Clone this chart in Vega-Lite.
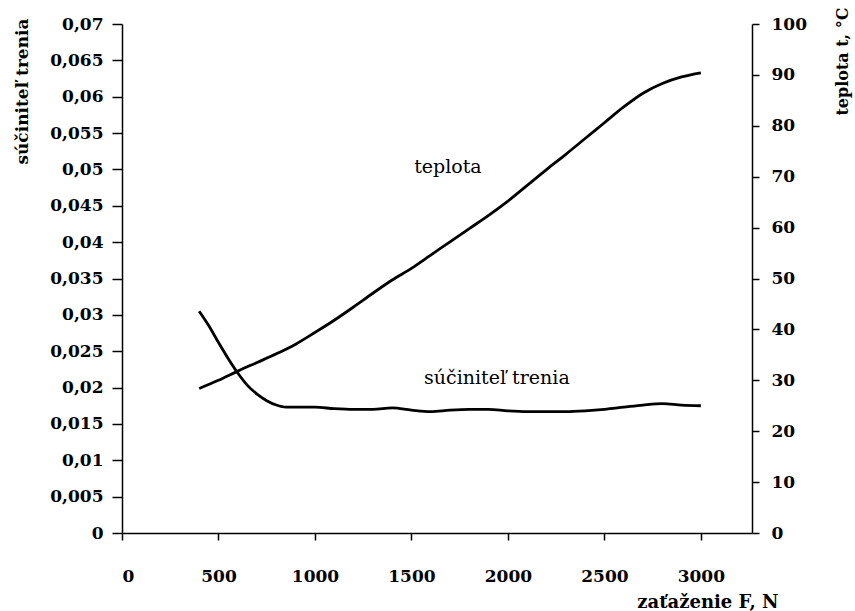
{
  "$schema": "https://vega.github.io/schema/vega-lite/v6.json",
  "width": 630,
  "height": 509,
  "autosize": "none",
  "padding": {"left": 122, "top": 24, "right": 103, "bottom": 78},
  "background": "white",
  "config": {
    "view": {"stroke": null},
    "font": "DejaVu Serif",
    "axis": {
      "grid": false,
      "domainColor": "black",
      "domainWidth": 1.5,
      "tickColor": "black",
      "tickWidth": 1.5,
      "labelColor": "black",
      "labelFont": "DejaVu Serif",
      "labelFontWeight": "bold",
      "labelFontSize": 17,
      "titleColor": "black",
      "titleFont": "DejaVu Serif",
      "titleFontWeight": "bold",
      "titleFontSize": 17
    }
  },
  "datasets": {
    "trenie": [
      {"F": 400, "mu": 0.0305},
      {"F": 450, "mu": 0.0285},
      {"F": 500, "mu": 0.0262},
      {"F": 550, "mu": 0.0240},
      {"F": 600, "mu": 0.0220},
      {"F": 650, "mu": 0.0203},
      {"F": 700, "mu": 0.0191},
      {"F": 750, "mu": 0.0182},
      {"F": 800, "mu": 0.0176},
      {"F": 850, "mu": 0.0173},
      {"F": 900, "mu": 0.0173},
      {"F": 1000, "mu": 0.0173},
      {"F": 1100, "mu": 0.0171},
      {"F": 1200, "mu": 0.0170},
      {"F": 1300, "mu": 0.0170},
      {"F": 1400, "mu": 0.0172},
      {"F": 1500, "mu": 0.0169},
      {"F": 1600, "mu": 0.0167},
      {"F": 1700, "mu": 0.0169},
      {"F": 1800, "mu": 0.0170},
      {"F": 1900, "mu": 0.0170},
      {"F": 2000, "mu": 0.0168},
      {"F": 2100, "mu": 0.0167},
      {"F": 2200, "mu": 0.0167},
      {"F": 2300, "mu": 0.0167},
      {"F": 2400, "mu": 0.0168},
      {"F": 2500, "mu": 0.0170},
      {"F": 2600, "mu": 0.0173},
      {"F": 2700, "mu": 0.0176},
      {"F": 2800, "mu": 0.0178},
      {"F": 2900, "mu": 0.0176},
      {"F": 3000, "mu": 0.0175}
    ],
    "teplota": [
      {"F": 400, "t": 28.4},
      {"F": 500, "t": 30.0},
      {"F": 600, "t": 31.8},
      {"F": 700, "t": 33.5},
      {"F": 800, "t": 35.2},
      {"F": 900, "t": 37.1},
      {"F": 1000, "t": 39.4},
      {"F": 1100, "t": 41.8},
      {"F": 1200, "t": 44.4},
      {"F": 1300, "t": 47.1},
      {"F": 1400, "t": 49.7},
      {"F": 1500, "t": 52.0},
      {"F": 1600, "t": 54.6},
      {"F": 1700, "t": 57.2},
      {"F": 1800, "t": 59.8},
      {"F": 1900, "t": 62.4},
      {"F": 2000, "t": 65.2},
      {"F": 2100, "t": 68.3},
      {"F": 2200, "t": 71.4},
      {"F": 2300, "t": 74.4},
      {"F": 2400, "t": 77.5},
      {"F": 2500, "t": 80.6},
      {"F": 2600, "t": 83.7},
      {"F": 2700, "t": 86.4},
      {"F": 2800, "t": 88.3},
      {"F": 2900, "t": 89.6},
      {"F": 3000, "t": 90.4}
    ],
    "popisy": [
      {"F": 1689, "mu": 0.0503, "popis": "teplota"},
      {"F": 1943, "mu": 0.0213, "popis": "súčiniteľ trenia"}
    ]
  },
  "encoding": {
    "x": {
      "field": "F",
      "type": "quantitative",
      "scale": {"domain": [0, 3265], "nice": false, "zero": false},
      "axis": {
        "title": "zaťaženie F, N",
        "titleFontSize": 18,
        "values": [0, 500, 1000, 1500, 2000, 2500, 3000],
        "format": "d",
        "tickSize": 7,
        "labelPadding": 28,
        "titleX": 656,
        "titleY": 69,
        "titleAlign": "right",
        "titleBaseline": "middle"
      }
    }
  },
  "layer": [
    {
      "data": {"name": "trenie"},
      "mark": {"type": "line", "color": "black", "strokeWidth": 2.8, "interpolate": "monotone"},
      "encoding": {
        "y": {
          "field": "mu",
          "type": "quantitative",
          "scale": {"domain": [0, 0.07], "nice": false},
          "axis": {
            "orient": "left",
            "title": "súčiniteľ trenia",
            "values": [0, 0.005, 0.01, 0.015, 0.02, 0.025, 0.03, 0.035, 0.04, 0.045, 0.05, 0.055, 0.06, 0.065, 0.07],
            "labelExpr": "replace(format(datum.value, '.3~f'), '.', ',')",
            "tickSize": 10,
            "labelPadding": 9,
            "titleAngle": -90,
            "titleAlign": "right",
            "titleBaseline": "middle",
            "titleX": -100,
            "titleY": -6
          }
        }
      }
    },
    {
      "data": {"name": "teplota"},
      "mark": {"type": "line", "color": "black", "strokeWidth": 2.8, "interpolate": "monotone"},
      "encoding": {
        "y": {
          "field": "t",
          "type": "quantitative",
          "scale": {"domain": [0, 100], "nice": false},
          "axis": {
            "orient": "right",
            "title": "teplota t, °C",
            "titleFontSize": 16,
            "values": [0, 10, 20, 30, 40, 50, 60, 70, 80, 90, 100],
            "tickSize": 7,
            "labelPadding": 12,
            "titleAngle": -90,
            "titleAlign": "right",
            "titleBaseline": "middle",
            "titleX": 90,
            "titleY": -17
          }
        }
      }
    },
    {
      "data": {"name": "popisy"},
      "mark": {"type": "text", "font": "DejaVu Serif", "fontSize": 19, "color": "black", "align": "center", "baseline": "middle"},
      "encoding": {
        "y": {
          "field": "mu",
          "type": "quantitative",
          "scale": {"domain": [0, 0.07], "nice": false},
          "axis": null
        },
        "text": {"field": "popis"}
      }
    }
  ],
  "resolve": {"scale": {"y": "independent"}}
}
